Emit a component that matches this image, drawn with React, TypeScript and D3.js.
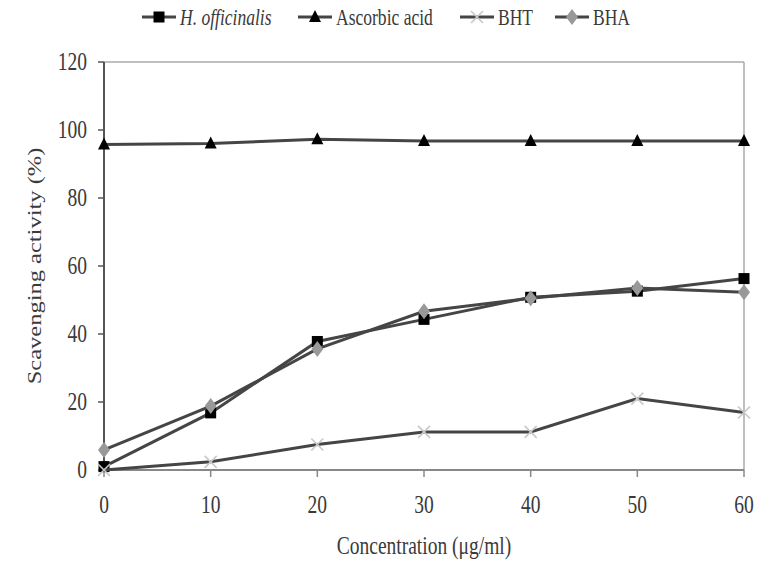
import React from "react";
import * as d3 from "d3";

const concentrations = [0, 10, 20, 30, 40, 50, 60];
const hOfficinalis = [1, 16.8, 37.8, 44.3, 50.8, 52.6, 56.3];
const ascorbicAcid = [95.7, 96.0, 97.3, 96.8, 96.8, 96.8, 96.8];
const bht = [0, 2.4, 7.5, 11.2, 11.2, 21.0, 16.9];
const bha = [5.9, 18.8, 35.6, 46.7, 50.5, 53.5, 52.3];
const yTicks = [0, 20, 40, 60, 80, 100, 120];
const xTicks = [0, 10, 20, 30, 40, 50, 60];

const seriesNames = ["H. officinalis", "Ascorbic acid", "BHT", "BHA"];
const seriesValues = [hOfficinalis, ascorbicAcid, bht, bha];
const markerTypes = ["square", "triangle", "cross", "diamond"];
const legendX = [142, 298, 460, 555];

const W = 758, H = 563;
const left = 104, right = 744, top = 62, bottom = 470;
const FONT = "'Liberation Serif', 'Times New Roman', serif";
const SX = 0.78;
const LINE = "#454545";

function Marker({ type, x, y }: { type: string; x: number; y: number }) {
  if (type === "square") return <rect x={x - 5.5} y={y - 5.5} width={11} height={11} fill="#000" />;
  if (type === "triangle") return <path d={`M${x},${y - 7}L${x + 6},${y + 5}L${x - 6},${y + 5}Z`} fill="#000" />;
  if (type === "cross")
    return (
      <path d={`M${x - 6},${y - 6}L${x + 6},${y + 6}M${x + 6},${y - 6}L${x - 6},${y + 6}`} stroke="#c8c8c8" strokeWidth={1.6} />
    );
  return <path d={`M${x},${y - 8}L${x + 6},${y}L${x},${y + 8}L${x - 6},${y}Z`} fill="#999" />;
}

function Txt({ x, y, children, anchor = "middle", size = 25, italic = false, fill = "#3a3a3a" }: any) {
  return (
    <text
      transform={`translate(${x},${y}) scale(${SX},1)`}
      textAnchor={anchor}
      fontFamily={FONT}
      fontSize={size}
      fontStyle={italic ? "italic" : "normal"}
      fill={fill}
    >
      {children}
    </text>
  );
}

export default function App() {
  const x = d3.scaleLinear().domain([0, 60]).range([left, right]);
  const y = d3.scaleLinear().domain([0, 120]).range([bottom, top]);
  const line = d3
    .line<number>()
    .x((_, i) => x(concentrations[i]))
    .y((d) => y(d));

  return (
    <svg width={W} height={H} style={{ position: "absolute", left: 0, top: 0, background: "#fff" }}>
      <rect x={0} y={0} width={W} height={H} fill="#fff" />
      {/* plot frame */}
      <line x1={left} x2={right} y1={top} y2={top} stroke="#aaa" strokeWidth={1.5} />
      <line x1={right} x2={right} y1={top} y2={bottom} stroke="#aaa" strokeWidth={1.5} />
      <line x1={left} x2={right} y1={bottom} y2={bottom} stroke="#888" strokeWidth={2} />
      <line x1={left} x2={left} y1={top} y2={bottom + 1} stroke="#555" strokeWidth={2} />
      {yTicks.map((t) => (
        <g key={"y" + t}>
          <line x1={left - 6} x2={left} y1={y(t)} y2={y(t)} stroke="#555" strokeWidth={1.5} />
          <Txt x={left - 17} y={y(t) + 8} anchor="end">{t}</Txt>
        </g>
      ))}
      {xTicks.map((t) => (
        <g key={"x" + t}>
          <line x1={x(t)} x2={x(t)} y1={bottom} y2={bottom + 7} stroke="#888" strokeWidth={1.5} />
          <Txt x={x(t)} y={513}>{t}</Txt>
        </g>
      ))}
      {/* axis titles */}
      <text
        transform={`translate(41,${(top + bottom) / 2}) scale(${SX},1) rotate(-90)`}
        textAnchor="middle"
        fontFamily={FONT}
        fontSize={24.5}
        fill="#3a3a3a"
      >
        Scavenging activity (%)
      </text>
      <Txt x={(left + right) / 2} y={554}>Concentration (μg/ml)</Txt>
      {/* series */}
      {seriesValues.map((vals, si) => (
        <g key={"s" + si}>
          <path d={line(vals) || ""} fill="none" stroke={LINE} strokeWidth={3} />
          {vals.map((v, i) => (
            <Marker key={i} type={markerTypes[si]} x={x(concentrations[i])} y={y(v)} />
          ))}
        </g>
      ))}
      {/* legend */}
      {seriesNames.map((n, i) => (
        <g key={"l" + i}>
          <line x1={legendX[i]} x2={legendX[i] + 34} y1={17} y2={17} stroke={LINE} strokeWidth={3} />
          <Marker type={markerTypes[i]} x={legendX[i] + 17} y={17} />
          <Txt x={legendX[i] + 38} y={25} anchor="start" size={22.5} italic={i === 0}>
            {n}
          </Txt>
        </g>
      ))}
    </svg>
  );
}
